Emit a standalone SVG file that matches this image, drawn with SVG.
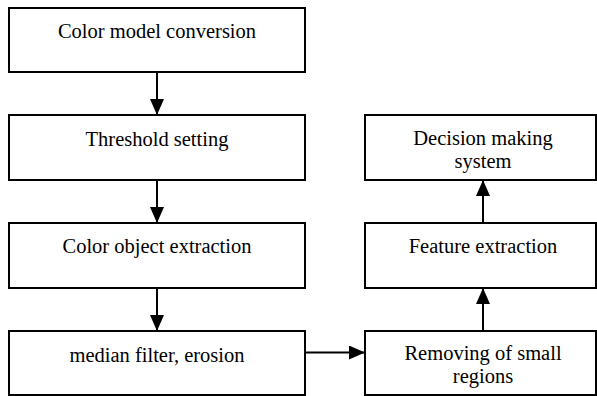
<svg xmlns="http://www.w3.org/2000/svg" width="597" height="396" viewBox="0 0 597 396">
<defs>
<style>
.box{fill:#fff;stroke:#000;stroke-width:2}
.lbl{font-family:"Liberation Serif","Times New Roman",serif;font-size:20.5px;fill:#000;text-anchor:middle}
.con{stroke:#000;stroke-width:2;fill:none}
</style>
<marker id="ah" viewBox="0 0 16 14" refX="16" refY="7" markerWidth="16" markerHeight="14" markerUnits="userSpaceOnUse" orient="auto">
<path d="M0,0 L16,7 L0,14 Z" fill="#000"/>
</marker>
</defs>
<rect width="597" height="396" fill="#fff"/>
<g id="connectors">
<line class="con" x1="157" y1="72" x2="157" y2="115" marker-end="url(#ah)"/>
<line class="con" x1="157" y1="180" x2="157" y2="223" marker-end="url(#ah)"/>
<line class="con" x1="157" y1="288" x2="157" y2="331" marker-end="url(#ah)"/>
<line class="con" x1="305" y1="352.5" x2="365" y2="352.5" marker-end="url(#ah)"/>
<line class="con" x1="483" y1="331" x2="483" y2="288" marker-end="url(#ah)"/>
<line class="con" x1="483" y1="223" x2="483" y2="180" marker-end="url(#ah)"/>
</g>
<g id="n1"><rect class="box" x="9" y="8" width="296" height="64"/><text class="lbl" x="157" y="38">Color model conversion</text></g>
<g id="n2"><rect class="box" x="9" y="115" width="296" height="65"/><text class="lbl" x="157" y="146">Threshold setting</text></g>
<g id="n3"><rect class="box" x="9" y="223" width="296" height="65"/><text class="lbl" x="157" y="253">Color object extraction</text></g>
<g id="n4"><rect class="box" x="9" y="331" width="296" height="64"/><text class="lbl" x="157" y="362">median filter, erosion</text></g>
<g id="n5"><rect class="box" x="365" y="331" width="231" height="64"/><text class="lbl" x="483" y="360">Removing of small</text><text class="lbl" x="483" y="383">regions</text></g>
<g id="n6"><rect class="box" x="365" y="223" width="231" height="65"/><text class="lbl" x="483" y="253">Feature extraction</text></g>
<g id="n7"><rect class="box" x="365" y="115" width="231" height="65"/><text class="lbl" x="483" y="145">Decision making</text><text class="lbl" x="483" y="168">system</text></g>
</svg>
